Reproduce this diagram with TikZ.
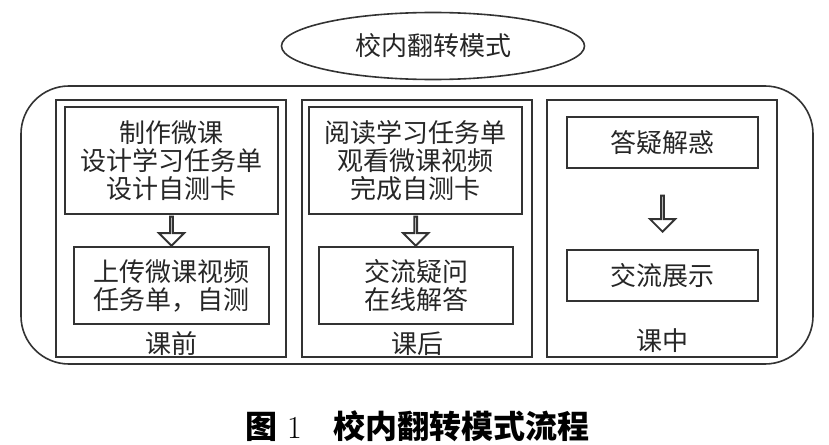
\documentclass[tikz,border=0pt]{standalone}
\usepackage{fontspec}
\newfontfamily\cjk{Noto Sans CJK SC}
\usetikzlibrary{shapes.geometric,shapes.arrows,positioning,calc}

\begin{document}
\begin{tikzpicture}[
  x=1pt, y=-1pt, font=\cjk\fontsize{26}{28}\selectfont, text=black!85,
  bx/.style={draw=black!80, line width=1.6pt},
  col/.style={bx, minimum width=230pt, minimum height=257pt, inner sep=0pt},
  st/.style={bx, inner sep=0pt, align=center},
  oval/.style={bx, ellipse, minimum width=303pt, minimum height=67pt, inner sep=0pt},
  lbl/.style={inner sep=0pt},
  harr/.style={bx, line width=1.9pt, single arrow, single arrow head extend=8pt,
    minimum width=25pt, inner sep=0pt, shape border rotate=270}]

\useasboundingbox (0,0) rectangle (829,444);

\node[oval] (title) at (433,46) {校内翻转模式};
\node[bx, rounded corners=48pt, minimum width=792pt, minimum height=278pt] (frame) at (417,225) {};

% three stages
\node[col] (pre) at (171,228.5) {};
\node[col] (post) at (417,228.5) {};
\node[col] (inc) at (662,228.5) {};

\node[st, minimum width=213pt, minimum height=107pt] (pre1) at (171.5,160.5) {制作微课\\设计学习任务单\\设计自测卡};
\node[st, minimum width=195pt, minimum height=77pt] (pre2) at (171.5,285.5) {上传微课视频\\任务单，自测};
\node[st, minimum width=213pt, minimum height=107pt] (post1) at (415.5,160.5) {阅读学习任务单\\观看微课视频\\完成自测卡};
\node[st, minimum width=194pt, minimum height=77pt] (post2) at (416,285.5) {交流疑问\\在线解答};
\node[st, minimum width=191pt, minimum height=51pt] (in1) at (662.5,142.5) {答疑解惑};
\node[st, minimum width=191pt, minimum height=51pt] (in2) at (662.5,275.5) {交流展示};

\node[lbl] (pre-l) at ([yshift=14pt]pre.south) {课前};
\node[lbl] (post-l) at ([yshift=14pt]post.south) {课后};
\node[lbl] (inc-l) at ([yshift=17pt]inc.south) {课中};

\foreach \u/\v/\l/\s in {pre1/pre2/29/0,post1/post2/29/0,in1/in2/36/-4}
  \node[harr, minimum height=\l pt] (\u-ar) at ([yshift=\s pt]$(\u.south)!0.5!(\v.north)$) {};

\node[font=\cjk\bfseries\fontsize{32}{34}\selectfont, text=black] (cap) at (417.5,426)
  {图\hspace{10pt}{\rmfamily\mdseries 1}\quad 校内翻转模式流程};
\end{tikzpicture}
\end{document}
